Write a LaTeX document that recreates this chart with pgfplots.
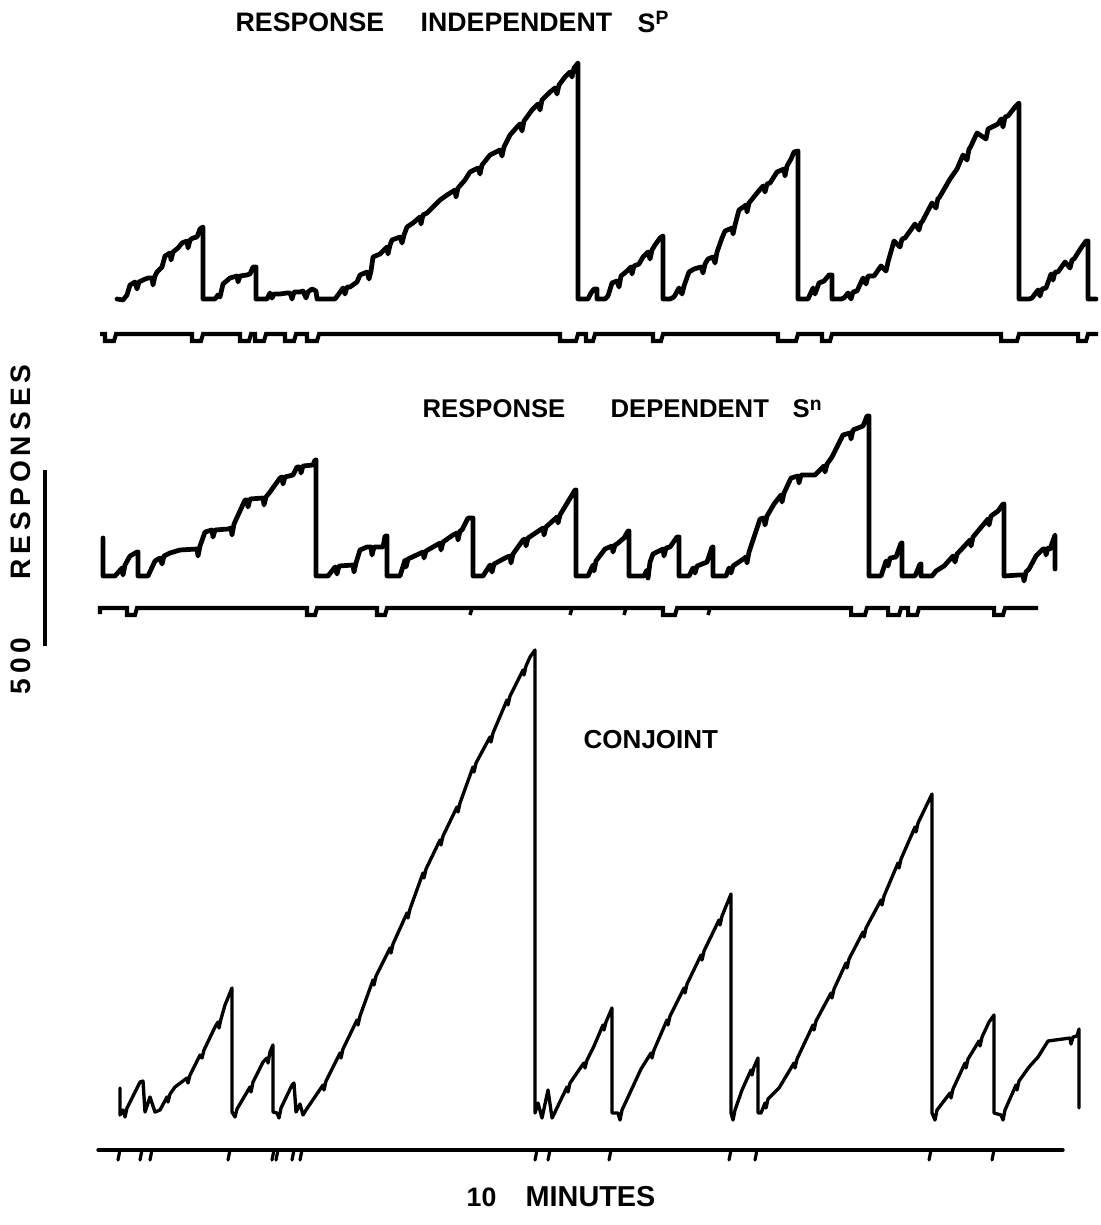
\documentclass[border=0pt]{standalone}
\usepackage{fontspec}
\setmainfont{Liberation Sans}
\usepackage{pgfplots}
\pgfplotsset{compat=1.18}

\tikzset{
  lab/.style={font=\fontsize{7.6}{8}\selectfont\bfseries, inner sep=0pt},
  labm/.style={font=\fontsize{7.3}{8}\selectfont\bfseries, inner sep=0pt},
  labv/.style={font=\addfontfeatures{LetterSpace=18}\fontsize{8}{9}\selectfont\bfseries, inner sep=0pt, rotate=90},
}
\pgfplotsset{
  rec/.style={black, line width=1.35pt, line join=round, line cap=round, mark=none},
  evt/.style={black, line width=1.15pt, line join=miter, mark=none},
  conj/.style={black, line width=0.95pt, line join=round, line cap=round, mark=none},
}

\begin{document}
\begin{tikzpicture}
\begin{axis}[
  width=11.01cm, height=12.25cm, scale only axis,
  xmin=0, xmax=1101, ymin=0, ymax=1225, y dir=reverse,
  hide axis, clip=false,
]

% ---------- response independent S^p : cumulative record ----------
\addplot[rec] coordinates {
(117,299)(123,300)(127,295)(130,285)(135,282)(137,289)(139,282)(143,280)(148,278)(152,278)(153,285)(155,276)(157,272)(162,267)(165,256)(170,253)(171,260)(173,252)(178,248)(182,243)(187,241)(188,248)(190,240)(193,238)(197,237)(200,229)(203,227)(203,299)
(215,299)(218,295)(220,297)(223,284)(230,278)(237,276)(238,282)(240,276)(247,275)(250,274)(253,267)(256,267)(256,299)
(267,299)(270,293)(272,298)(274,294)(280,294)(287,293)(290,293)(292,299)(294,292)(300,292)(303,291)(306,298)(308,292)(312,289)(316,291)(317,299)
(335,299)(338,295)(343,288)(345,294)(347,287)(350,287)(357,282)(360,275)(367,272)(369,279)(371,271)(373,257)(380,254)(387,247)(388,254)(390,245)(392,240)(400,237)(402,243)(404,235)(407,227)(413,223)(420,217)(421,224)(423,215)(427,213)(433,207)(440,200)
(447,195)(455,190)(456,197)(458,188)(465,180)(470,172)(478,168)(480,174)(482,165)(490,155)(500,150)(502,156)(504,147)(510,135)(517,127)(520,124)(522,131)(524,121)(532,110)(538,104)(540,110)(542,100)(550,92)(555,88)(557,94)(559,85)(565,77)(570,72)(572,77)(574,68)(578,63)(578,299)
(588,299)(591,293)(594,289)(597,289)(597,299)
(605,299)(608,296)(612,283)(617,281)(619,287)(621,276)(627,271)(631,267)(632,274)(634,266)(639,264)(643,257)(648,252)(650,259)(652,250)(655,245)(660,238)(663,236)(663,299)
(670,299)(674,297)(679,288)(682,294)(684,286)(689,272)(694,269)(701,267)(703,273)(705,264)(708,259)(713,257)(715,263)(717,252)(722,238)(725,231)(732,228)(733,234)(735,225)(739,210)(746,205)(747,212)(749,203)(757,193)(763,186)(765,192)(767,184)(770,183)(777,172)(784,169)(785,176)(787,166)(791,159)(794,152)(798,151)(798,299)
(808,299)(813,288)(815,294)(819,283)(824,281)(829,275)(832,275)(832,299)
(841,299)(844,298)(848,293)(851,299)(853,292)(857,291)(863,278)(866,284)(868,276)(874,276)(881,266)(886,271)(888,262)(894,241)(900,247)(902,239)(905,238)(915,224)(919,230)(921,222)(922,222)(932,203)(936,208)(938,198)(939,198)(950,179)(957,169)(963,155)(967,160)(969,149)(970,148)(977,133)(986,139)(988,129)(998,124)(1001,119)(1003,127)(1005,117)(1008,116)(1015,107)(1019,103)(1019,299)
(1029,299)(1032,298)(1038,290)(1040,296)(1042,289)(1046,288)(1051,274)(1053,280)(1055,272)(1058,272)(1065,262)(1070,268)(1072,260)(1074,259)(1081,248)(1086,241)(1088,241)(1088,299)(1096,299)
};
% event pen, top record
\addplot[evt] coordinates {
(100,334)(105,334)(105,341)(114,341)(116,334)
(192,334)(192,341)(201,341)(203,334)
(240,334)(240,341)(249,341)(251,334)
(255,334)(255,341)(264,341)(266,334)
(285,334)(285,341)(294,341)(296,334)
(307,334)(307,341)(317,341)(319,334)
(560,334)(560,341)(576,341)(578,334)
(586,334)(586,341)(593,341)(595,334)
(653,334)(653,341)(661,341)(663,334)
(778,334)(778,341)(796,341)(798,334)
(822,334)(822,341)(830,341)(832,334)
(1001,334)(1001,341)(1017,341)(1019,334)
(1078,334)(1078,341)(1086,341)(1088,334)(1098,334)
};

% ---------- response dependent S^n : cumulative record ----------
\addplot[rec] coordinates {
(103,538)(103,576)(115,576)(122,568)(123,575)(125,565)(130,556)(137,552)(138,552)(138,576)
(148,576)(155,561)(160,558)(162,564)(164,556)(170,553)(180,550)(197,549)(198,556)(200,546)(205,532)(212,530)(213,537)(215,530)(228,529)(231,528)(232,535)(234,524)(245,500)(247,500)(248,507)(250,499)(263,498)(264,505)(266,497)(270,492)(280,478)(282,477)(283,484)(285,477)(293,475)(297,467)(300,467)(301,473)(303,466)(313,465)(315,460)(316,460)(316,576)
(328,576)(335,567)(337,574)(339,566)(353,565)(354,572)(356,563)(360,550)(367,547)(371,547)(372,555)(374,547)(383,547)(385,536)(387,536)(387,576)
(400,576)(405,560)(406,567)(408,559)(423,552)(424,558)(426,551)(440,543)(441,550)(443,542)(453,535)(457,533)(458,540)(460,531)(462,530)(468,518)(473,518)(473,576)
(483,576)(490,565)(492,572)(494,564)(507,557)(510,556)(511,563)(513,554)(523,540)(525,539)(526,546)(528,538)(540,530)(543,528)(544,535)(546,527)(557,517)(558,523)(560,515)(563,510)(575,490)(576,490)(576,576)
(588,576)(593,565)(594,571)(596,561)(605,549)(612,546)(613,552)(615,545)(617,544)(624,538)(628,531)(629,531)(629,576)
(644,576)(647,570)(648,578)(650,562)(653,554)(663,549)(664,556)(666,548)(670,547)(677,537)(679,537)(679,576)
(689,576)(693,568)(695,573)(697,566)(707,562)(712,547)(713,547)(713,576)
(726,576)(729,568)(731,573)(733,566)(739,562)(746,557)(747,563)(749,552)(760,519)(764,518)(765,525)(767,516)(774,504)(781,495)(782,502)(784,493)(791,478)(798,476)(799,483)(801,475)(815,475)(822,468)(824,466)(825,472)(827,464)(832,457)(843,435)(850,433)(851,439)(853,430)(863,426)(867,416)(869,416)(869,576)
(881,576)(886,561)(888,566)(890,558)(896,557)(901,543)(902,543)(902,576)
(915,576)(920,564)(921,564)(921,576)
(932,576)(936,571)(944,566)(953,556)(955,562)(957,554)(970,540)(971,546)(973,537)(988,519)(989,525)(991,516)(998,511)(1003,504)(1004,504)(1004,576)
(1019,575)(1023,575)(1024,581)(1026,572)(1029,569)(1036,556)(1043,549)(1045,549)(1046,555)(1048,548)(1050,549)(1055,535)(1055,569)
};
% event pen, middle record
\addplot[evt] coordinates {
(100,614)(100,608)(106,608)
(127,608)(127,615)(135,615)(137,608)
(307,608)(307,615)(315,615)(317,608)
(377,608)(377,615)(385,615)(387,608)
(663,608)(663,615)(675,615)(677,608)
(851,608)(851,615)(865,615)(867,608)
(888,608)(888,615)(899,615)(901,608)
(908,608)(908,615)(917,615)(919,608)
(994,608)(994,615)(1003,615)(1005,608)(1038,608)
};
% single pips on the middle event line
\addplot[evt, line width=1pt] coordinates {(472,608)(470,615)};
\addplot[evt, line width=1pt] coordinates {(572,608)(570,615)};
\addplot[evt, line width=1pt] coordinates {(626,608)(624,615)};
\addplot[evt, line width=1pt] coordinates {(710,608)(708,615)};

% ---------- conjoint : cumulative record ----------
\addplot[conj] coordinates {
(120,1088)(120,1115)(123,1110)(125,1117)(127,1108)(140,1082)(143,1081)(145,1112)(150,1097)(155,1112)(160,1110)(167,1097)(168,1102)(170,1094)(175,1087)(187,1078)(188,1083)(190,1075)(200,1055)(202,1058)(204,1050)(215,1027)(218,1022)(219,1028)(221,1019)(225,1005)(232,988)(232,1112)
(235,1117)(237,1109)(250,1087)(251,1092)(253,1082)(263,1062)(267,1058)(268,1063)(270,1052)(273,1045)(273,1112)
(277,1113)(279,1118)(281,1108)(292,1085)(294,1083)(296,1112)(300,1104)(303,1115)(306,1110)(323,1085)(324,1090)(326,1081)(340,1053)(341,1058)(343,1049)(357,1020)(358,1025)(360,1016)(373,980)(374,985)(376,976)(390,948)(391,953)(393,944)(407,913)(408,918)(410,909)(423,873)(424,878)(426,869)(440,840)(441,845)(443,836)(457,807)(458,812)(460,803)(473,767)(474,772)(476,763)(490,737)(491,742)(493,733)(507,700)(508,705)(510,696)(523,670)(524,675)(526,666)(530,657)(535,650)(535,1113)
(538,1103)(542,1118)(548,1090)(552,1118)(555,1112)(567,1087)(568,1092)(570,1083)(581,1067)(584,1063)(585,1068)(587,1060)(594,1046)(603,1025)(604,1030)(606,1022)(612,1008)(612,1113)
(618,1113)(620,1120)(622,1110)(641,1069)(651,1053)(652,1058)(654,1050)(667,1020)(668,1025)(670,1016)(684,988)(685,993)(687,984)(701,955)(702,960)(704,951)(719,920)(720,925)(722,916)(731,894)(731,1113)
(733,1120)(735,1110)(742,1090)(751,1070)(752,1075)(754,1067)(758,1058)(758,1113)
(761,1113)(765,1103)(766,1108)(768,1099)(779,1088)(794,1063)(795,1068)(797,1059)(813,1025)(814,1030)(816,1021)(831,993)(832,998)(834,989)(846,963)(847,968)(849,959)(863,932)(864,937)(866,928)(881,900)(882,905)(884,896)(898,863)(899,868)(901,859)(915,827)(916,832)(918,823)(932,794)(932,1113)
(935,1120)(937,1110)(950,1093)(951,1098)(953,1089)(965,1063)(966,1068)(968,1059)(979,1041)(980,1046)(982,1037)(989,1022)(994,1015)(994,1113)
(1001,1115)(1003,1120)(1005,1110)(1016,1085)(1017,1090)(1019,1081)(1029,1067)(1038,1057)(1048,1041)(1070,1038)(1071,1044)(1073,1037)(1077,1036)(1079,1029)(1079,1108)
};
% event pen, conjoint record
\addplot[conj] coordinates {(98,1150)(1063,1150)};
\pgfplotsinvokeforeach{118,140,150,228,272,276,292,300,535,548,609,729,755,929,992}{
  \addplot[conj, line width=0.9pt] coordinates {(#1+2,1150)(#1,1160)};
}

% ---------- scale bar ----------
\addplot[black, line width=1.1pt] coordinates {(45,470)(45,646)};

% ---------- labels ----------
\node[lab, anchor=west] at (axis cs:235,22) {RESPONSE};
\node[lab, anchor=west] at (axis cs:420,22) {INDEPENDENT};
\node[lab, anchor=west] at (axis cs:637,22) {S\raisebox{0.55ex}{\fontsize{5.5}{6}\selectfont P}};

\node[labm, anchor=west] at (axis cs:422,409) {RESPONSE};
\node[labm, anchor=west] at (axis cs:610,409) {DEPENDENT};
\node[labm, anchor=west] at (axis cs:792,409) {S\raisebox{0.55ex}{\fontsize{5.5}{6}\selectfont n}};

\node[labm, anchor=west, font=\fontsize{7.4}{8}\selectfont\bfseries] at (axis cs:583,740) {CONJOINT};

\node[lab, anchor=west] at (axis cs:466,1197) {10};
\node[lab, anchor=west, font=\fontsize{8.2}{9}\selectfont\bfseries] at (axis cs:525,1197) {MINUTES};

\node[labv] at (axis cs:21,472) {RESPONSES};
\node[labv] at (axis cs:21,666) {500};

\end{axis}
\pgfresetboundingbox
\path (0,0) rectangle (11.01cm,12.25cm);
\end{tikzpicture}
\end{document}
